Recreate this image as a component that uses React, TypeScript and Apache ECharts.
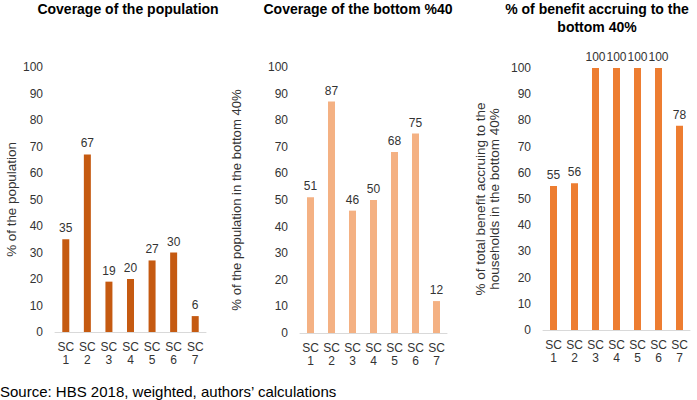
import React, { useEffect, useRef } from "react";
import * as echarts from "echarts";

const categories = ["SC\n1", "SC\n2", "SC\n3", "SC\n4", "SC\n5", "SC\n6", "SC\n7"];
const coveragePopulation = [35, 67, 19, 20, 27, 30, 6];
const coverageBottom40 = [51, 87, 46, 50, 68, 75, 12];
const benefitBottom40 = [55, 56, 100, 100, 100, 100, 78];
const titles = [
  "Coverage of the population",
  "Coverage of the bottom %40",
  "% of benefit accruing to the\nbottom 40%",
];
const yNames = [
  "% of the population",
  "% of the population in the bottom 40%",
  "% of total benefit accruing to the\nhouseholds in the bottom 40%",
];
const sourceText = "Source: HBS 2018, weighted, authors’ calculations";

const FONT = "Liberation Sans, Arial, sans-serif";
const TEXT = "#333333";

export default function App() {
  const ref = useRef<HTMLDivElement>(null);
  useEffect(() => {
    if (!ref.current) return;
    const chart = echarts.init(ref.current, undefined, { renderer: "svg" });
    const grids = [
      { left: 55, top: 67, width: 151, height: 265 },
      { left: 300, top: 67, width: 147, height: 266 },
      { left: 543, top: 68, width: 147, height: 262 },
    ];
    const colors = ["#C55A11", "#F4B183", "#ED7D31"];
    const data = [coveragePopulation, coverageBottom40, benefitBottom40];
    const nameGaps = [37, 57, 42];
    const nameSizes = [13.4, 13.1, 13.5];
    const titleX = [128, 358, 597];
    chart.setOption({
      animation: false,
      textStyle: { fontFamily: FONT },
      title: titles.map((t, i) => ({
        text: t,
        left: titleX[i],
        top: 0,
        padding: 0,
        textAlign: "center",
        textStyle: { fontFamily: FONT, fontSize: 14, fontWeight: "bold", color: "#000", lineHeight: 18 },
      })),
      grid: grids,
      xAxis: grids.map((_, i) => ({
        type: "category",
        gridIndex: i,
        data: categories,
        axisLine: { show: true, lineStyle: { color: "#D9D9D9", width: 1 } },
        axisTick: { show: false },
        axisLabel: { color: TEXT, fontSize: 12, fontFamily: FONT, margin: 8, lineHeight: 13, interval: 0 },
      })),
      yAxis: grids.map((_, i) => ({
        type: "value",
        gridIndex: i,
        min: 0,
        max: 100,
        interval: 10,
        name: yNames[i],
        nameLocation: "middle",
        nameGap: nameGaps[i],
        nameTextStyle: { color: TEXT, fontSize: nameSizes[i], fontFamily: FONT, lineHeight: 14 },
        axisLine: { show: false },
        axisTick: { show: false },
        splitLine: { show: false },
        axisLabel: { color: TEXT, fontSize: 12, fontFamily: FONT, margin: 12 },
      })),
      series: data.map((d, i) => ({
        type: "bar",
        xAxisIndex: i,
        yAxisIndex: i,
        data: d,
        barWidth: 7,
        itemStyle: { color: colors[i] },
        label: { show: true, position: "top", distance: 5, color: TEXT, fontSize: 12, fontFamily: FONT },
      })),
      graphic: [
        {
          type: "text",
          left: 0,
          top: 384,
          style: { text: sourceText, fill: "#000", fontSize: 15, fontFamily: FONT },
        },
      ],
    });
    return () => chart.dispose();
  }, []);
  return (
    <div
      ref={ref}
      style={{ position: "fixed", left: 0, top: 0, width: 697, height: 400, background: "#fff" }}
    />
  );
}
